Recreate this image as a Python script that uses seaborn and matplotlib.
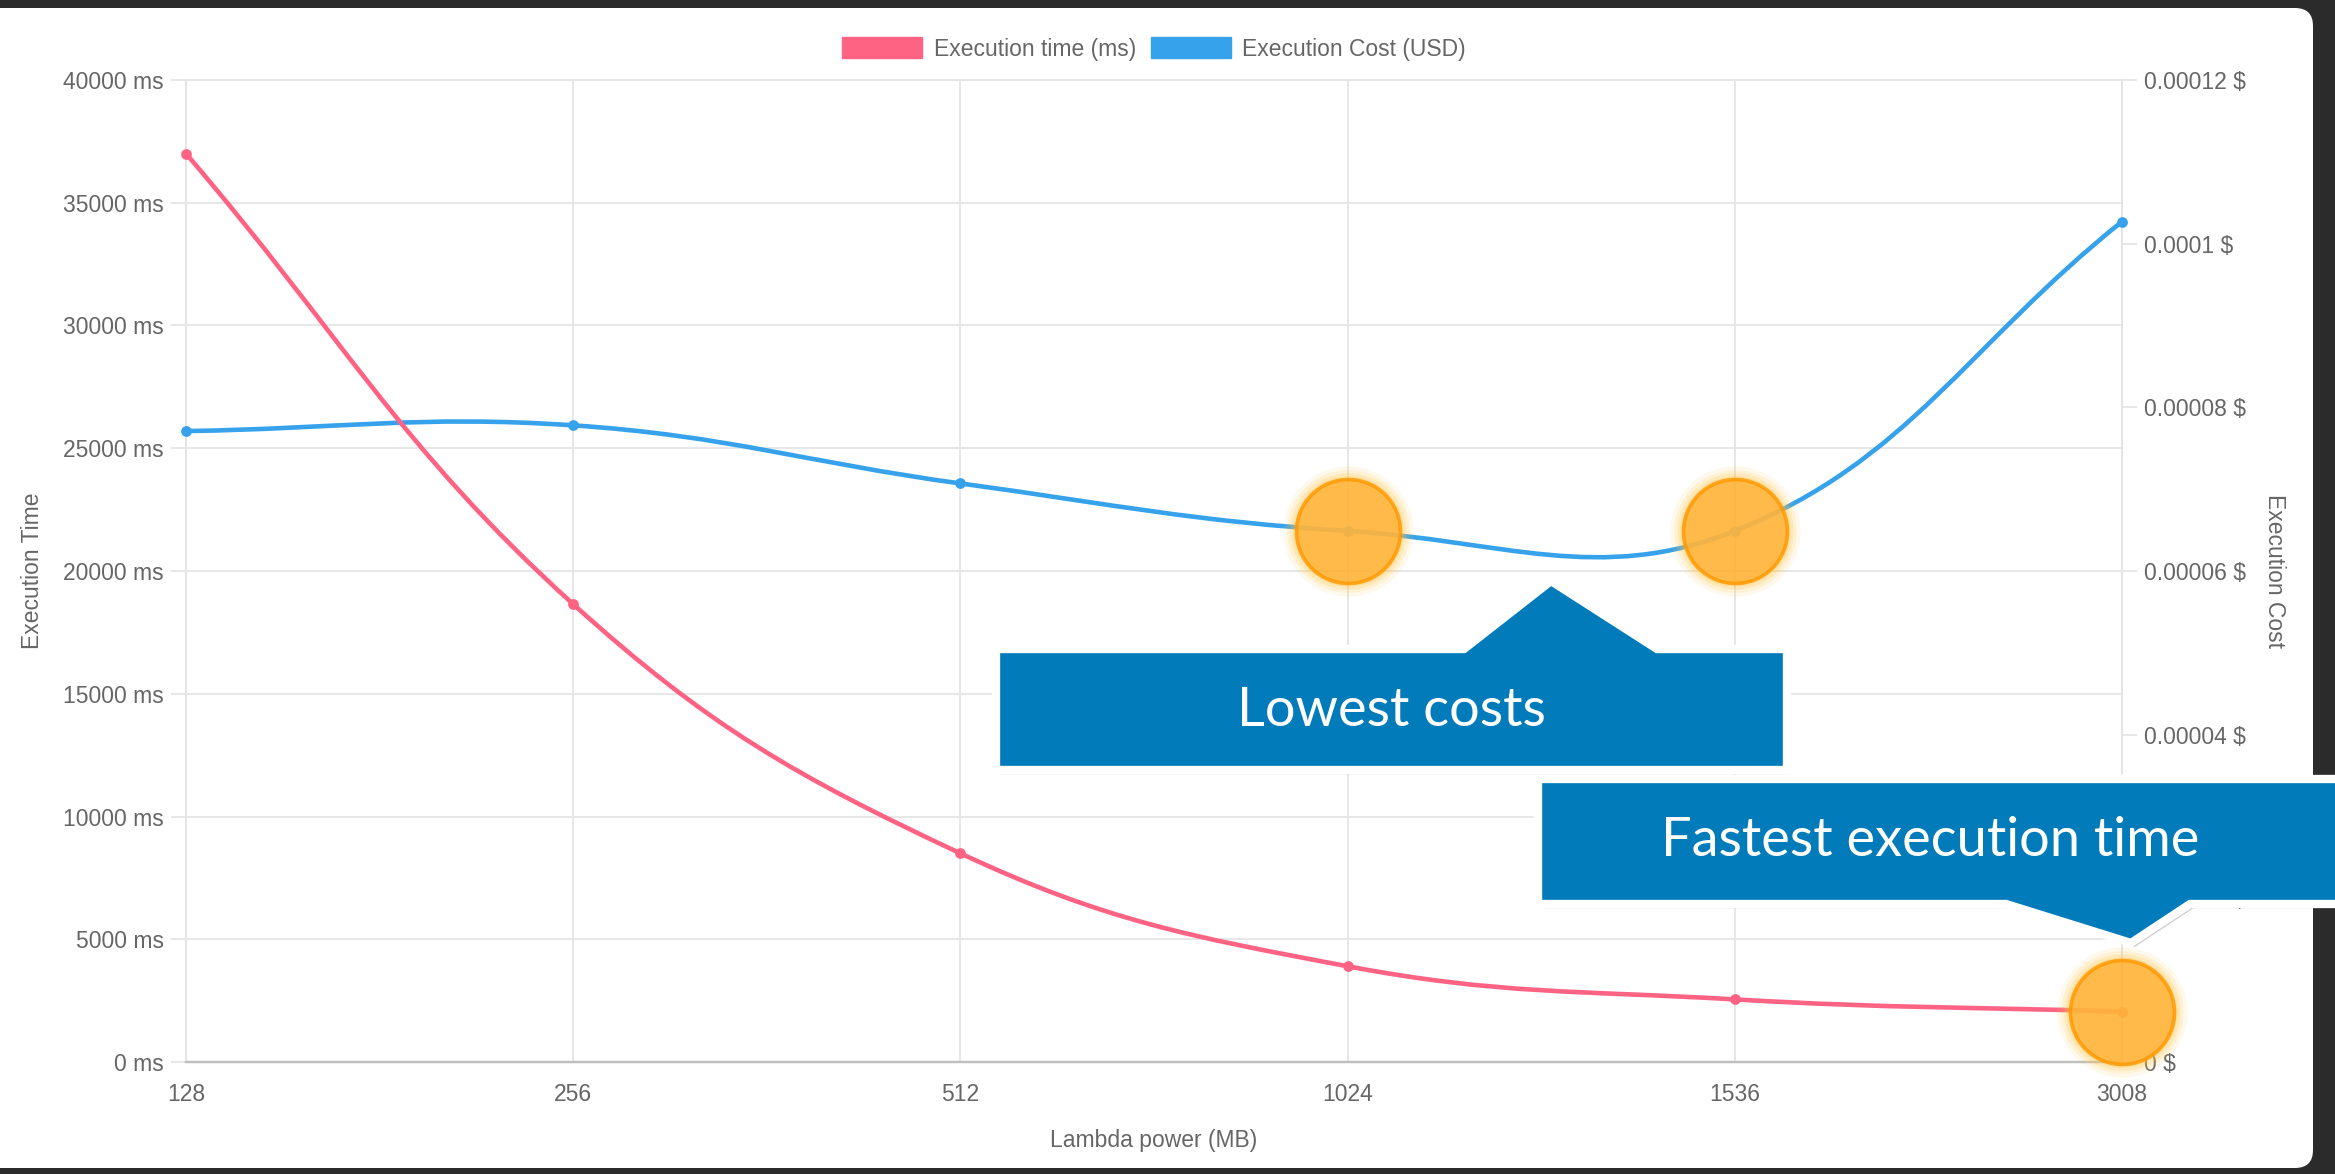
import numpy as np
import matplotlib
matplotlib.use("Agg")
import matplotlib.pyplot as plt
import seaborn as sns
from matplotlib.path import Path
from matplotlib.patches import PathPatch, Polygon, FancyBboxPatch, Rectangle
from matplotlib.transforms import IdentityTransform
import matplotlib.patheffects as pe

# values
memory = ["128", "256", "512", "1024", "1536", "3008"]
exec_time = [37000, 18650, 8500, 3900, 2550, 2050]
exec_cost = [0.0000771, 0.0000778, 0.0000707, 0.0000649, 0.0000649, 0.0001027]
time_ticks = [0, 5000, 10000, 15000, 20000, 25000, 30000, 35000, 40000]
cost_ticks = [0, 0.00002, 0.00004, 0.00006, 0.00008, 0.0001, 0.00012]
best_cost_idx = [3, 4]
best_time_idx = [5]

RED = "#ff6384"
BLUE = "#36a2eb"
GRID = "#e5e5e5"
TXT = "#666666"
CALLOUT = "#027bbb"

W, H = 2335, 1174
sns.set_theme(style="white")
plt.rcParams["font.family"] = ["Liberation Sans", "DejaVu Sans"]

fig = plt.figure(figsize=(W / 100, H / 100), dpi=100)
fig.patch.set_facecolor("#2b2b2b")


def px(x, y):
    # screenshot pixel (top-left origin) -> display coords
    return (x, H - y)


# white card behind the chart
fig.add_artist(FancyBboxPatch(px(-40, 1168), 2313 + 40, 1160,
                              boxstyle="round,pad=0,rounding_size=18",
                              facecolor="white", edgecolor="none",
                              transform=IdentityTransform(), zorder=0))

ax = fig.add_axes([186 / W, 1 - 1062 / H, (2122 - 186) / W, (1062 - 80) / H])
ax.patch.set_visible(False)
ax2 = ax.twinx()

xs = np.arange(len(memory))
ax.set_xlim(0, len(memory) - 1)
ax.set_ylim(0, 40000)
ax2.set_ylim(0, 0.00012)


def smooth_path(axis, x, y, t=0.4):
    # chart.js style bezier (tension 0.4), computed in pixel space
    pts = axis.transData.transform(np.column_stack([x, y]))
    n = len(pts)
    cps = []
    for i in range(n):
        prev, cur, nxt = pts[max(i - 1, 0)], pts[i], pts[min(i + 1, n - 1)]
        d01 = np.hypot(*(cur - prev))
        d12 = np.hypot(*(nxt - cur))
        s01, s12 = d01 / (d01 + d12), d12 / (d01 + d12)
        cps.append((cur - t * s01 * (nxt - prev), cur + t * s12 * (nxt - prev)))
    verts = [pts[0]]
    codes = [Path.MOVETO]
    for i in range(1, n):
        verts += [cps[i - 1][1], cps[i][0], pts[i]]
        codes += [Path.CURVE4] * 3
    verts = axis.transData.inverted().transform(np.array(verts))
    return Path(verts, codes)


ax2.add_patch(PathPatch(smooth_path(ax2, xs, exec_cost), facecolor="none",
                        edgecolor=BLUE, lw=3.3, zorder=3))
sns.scatterplot(x=xs, y=exec_cost, ax=ax2, color=BLUE, s=60, edgecolor=BLUE,
                linewidth=0, zorder=4, clip_on=False)
# red series drawn on top like chart.js does with the first dataset
ax2.add_patch(PathPatch(smooth_path(ax, xs, exec_time), facecolor="none",
                        edgecolor=RED, lw=3.3, zorder=5,
                        transform=ax.transData))
ax2.scatter(xs, exec_time, color=RED, s=60, linewidth=0, zorder=6,
            clip_on=False, transform=ax.transData)

# orange highlight circles with a soft glow
hl = [(xs[best_cost_idx], np.array(exec_cost)[best_cost_idx], ax2.transData),
      (xs[best_time_idx], np.array(exec_time)[best_time_idx], ax.transData)]
for hx, hy, tr in hl:
    for k, a in zip([8800, 7800, 7000, 6300], [0.10, 0.15, 0.2, 0.28]):
        ax2.scatter(hx, hy, s=k, color="#ffc64a", alpha=a, linewidth=0,
                    transform=tr, zorder=8, clip_on=False)
    ax2.scatter(hx, hy, s=5600, color="#ffb238", alpha=0.82, edgecolor="#ff9800",
                linewidth=2.6, transform=tr, zorder=9, clip_on=False)
ax.set_xlim(0, len(memory) - 1)
ax.set_ylim(0, 40000)
ax2.set_ylim(0, 0.00012)

# axes styling
ax.set_xticks(xs, memory)
ax.set_yticks(time_ticks, [f"{v} ms" for v in time_ticks])
ax2.set_yticks(cost_ticks,
               [np.format_float_positional(v, trim="-") + " $" for v in cost_ticks])
ax.grid(True, color=GRID, lw=1.3)
ax2.grid(False)
for a in (ax, ax2):
    for s in a.spines.values():
        s.set_color(GRID)
        s.set_linewidth(1.3)
    a.spines["bottom"].set_color("#bfbfbf")
    a.spines["bottom"].set_linewidth(1.6)
ax.tick_params(axis="both", length=11, width=1.3, color=GRID, labelcolor=TXT,
               labelsize=16.5, pad=5)
ax.tick_params(axis="x", pad=4)
ax2.tick_params(axis="y", length=11, width=1.3, color=GRID, labelcolor=TXT,
                labelsize=16.5, pad=5)

ax.set_xlabel("Lambda power (MB)", fontsize=16.5, color=TXT)
ax.xaxis.set_label_coords(0.5, -(1141 - 1062) / 982)
ax.xaxis.label.set_va("center")
ax.set_ylabel("Execution Time", fontsize=16.5, color=TXT)
ax.yaxis.set_label_coords((33 - 186) / 1936, 0.5)
ax.yaxis.label.set_va("center")
ax2.set_ylabel("Execution Cost", fontsize=16.5, color=TXT, rotation=270)
ax2.yaxis.set_label_coords((2275 - 186) / 1936, 0.5)
ax2.yaxis.label.set_va("center")

# legend
handles = [Rectangle((0, 0), 1, 1, facecolor=RED, edgecolor=RED),
           Rectangle((0, 0), 1, 1, facecolor=BLUE, edgecolor=BLUE)]
leg = ax2.legend(handles, ["Execution time (ms)", "Execution Cost (USD)"],
                 loc="center", bbox_to_anchor=(0.5, 1 + 31 / 982), ncol=2,
                 frameon=False, fontsize=16.5, handlelength=3.5,
                 handleheight=1.0, handletextpad=0.5, columnspacing=0.65)
for t in leg.get_texts():
    t.set_color(TXT)

# callouts
shadow = [pe.SimplePatchShadow(offset=(2.5, -3), shadow_rgbFace="k", alpha=0.22),
          pe.Normal()]
callout1 = [(996, 649), (1464, 649), (1551, 581), (1657, 649), (1787, 649),
            (1787, 770), (996, 770)]
callout2 = [(1538, 779), (2345, 779), (2345, 904), (2190, 904), (2131, 943),
            (2006, 904), (1538, 904)]
for poly in (callout1, callout2):
    p = Polygon([px(x, y) for x, y in poly], closed=True, facecolor=CALLOUT,
                edgecolor="white", lw=6, joinstyle="miter",
                transform=IdentityTransform(), zorder=20)
    p.set_path_effects(shadow)
    fig.add_artist(p)

fig.text(1391 / W, 1 - 710 / H, "Lowest costs", color="white", fontsize=39,
         family=["Lato", "DejaVu Sans"], ha="center", va="center", zorder=21)
fig.text(1930 / W, 1 - 840 / H, "Fastest execution time", color="white",
         fontsize=39, family=["Lato", "DejaVu Sans"], ha="center", va="center",
         zorder=21)

fig.savefig("out.png", dpi=100, facecolor=fig.get_facecolor())
